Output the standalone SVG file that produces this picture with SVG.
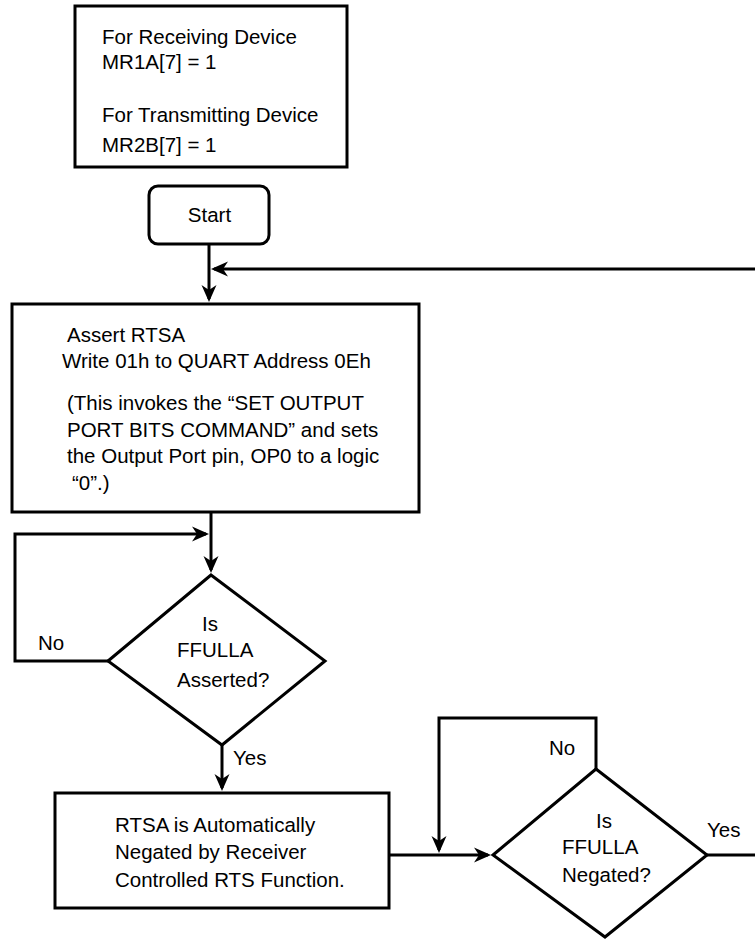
<svg xmlns="http://www.w3.org/2000/svg" width="755" height="939" viewBox="0 0 755 939">
<style>
.box{fill:#fff;stroke:#000;stroke-width:3}
.ln{fill:none;stroke:#000;stroke-width:3}
.t{font-family:"Liberation Sans",Arial,Helvetica,sans-serif;font-size:20.5px;fill:#000}
.c{text-anchor:middle}
</style>
<defs>
<marker id="ah" viewBox="-18 -10 20 20" markerWidth="20" markerHeight="20" refX="-3" refY="0" orient="auto" markerUnits="userSpaceOnUse">
<path d="M0,0 L-17,-7.5 L-12,0 L-17,7.5 Z" fill="#000"/>
</marker>
</defs>
<rect width="755" height="939" fill="#fff"/>
<g id="connectors">
<path class="ln" d="M209,244 V299" marker-end="url(#ah)"/>
<path class="ln" d="M755,269 H214" marker-end="url(#ah)"/>
<path class="ln" d="M211,512 V570" marker-end="url(#ah)"/>
<path class="ln" d="M108,661 H15 V534 H206" marker-end="url(#ah)"/>
<path class="ln" d="M222,745 V788" marker-end="url(#ah)"/>
<path class="ln" d="M389,855 H488" marker-end="url(#ah)"/>
<path class="ln" d="M596,769 V718 H439 V850" marker-end="url(#ah)"/>
<path class="ln" d="M707,855 H755"/>
<text class="t" x="38" y="650">No</text>
<text class="t" x="233" y="765">Yes</text>
<text class="t" x="549" y="755">No</text>
<text class="t" x="707" y="837">Yes</text>
</g>
<g id="config">
<rect class="box" x="75" y="6" width="272" height="161"/>
<text class="t" x="102" y="44">For Receiving Device</text>
<text class="t" x="102" y="69">MR1A[7] = 1</text>
<text class="t" x="102" y="122">For Transmitting Device</text>
<text class="t" x="102" y="152">MR2B[7] = 1</text>
</g>
<g id="start">
<rect class="box" x="149" y="186" width="120" height="58" rx="9"/>
<text class="t c" x="209.5" y="222">Start</text>
</g>
<g id="assert">
<rect class="box" x="12" y="304" width="407" height="208"/>
<text class="t" x="67" y="342">Assert RTSA</text>
<text class="t" x="62" y="368">Write 01h to QUART Address 0Eh</text>
<text class="t" x="67" y="410">(This invokes the “SET OUTPUT</text>
<text class="t" x="67" y="437">PORT BITS COMMAND” and sets</text>
<text class="t" x="67" y="463">the Output Port pin, OP0 to a logic</text>
<text class="t" x="72" y="490">“0”.)</text>
</g>
<g id="decision1">
<path class="box" d="M211,575 L325,661 L222,745 L108,661 Z"/>
<text class="t" x="202" y="631">Is</text>
<text class="t" x="177" y="657">FFULLA</text>
<text class="t" x="177" y="687">Asserted?</text>
</g>
<g id="negated">
<rect class="box" x="55" y="793" width="334" height="115"/>
<text class="t" x="115" y="832">RTSA is Automatically</text>
<text class="t" x="115" y="859">Negated by Receiver</text>
<text class="t" x="115" y="887">Controlled RTS Function.</text>
</g>
<g id="decision2">
<path class="box" d="M596,769 L707,855 L605,937 L493,855 Z"/>
<text class="t" x="596" y="828">Is</text>
<text class="t" x="562" y="854">FFULLA</text>
<text class="t" x="562" y="882">Negated?</text>
</g>
</svg>
